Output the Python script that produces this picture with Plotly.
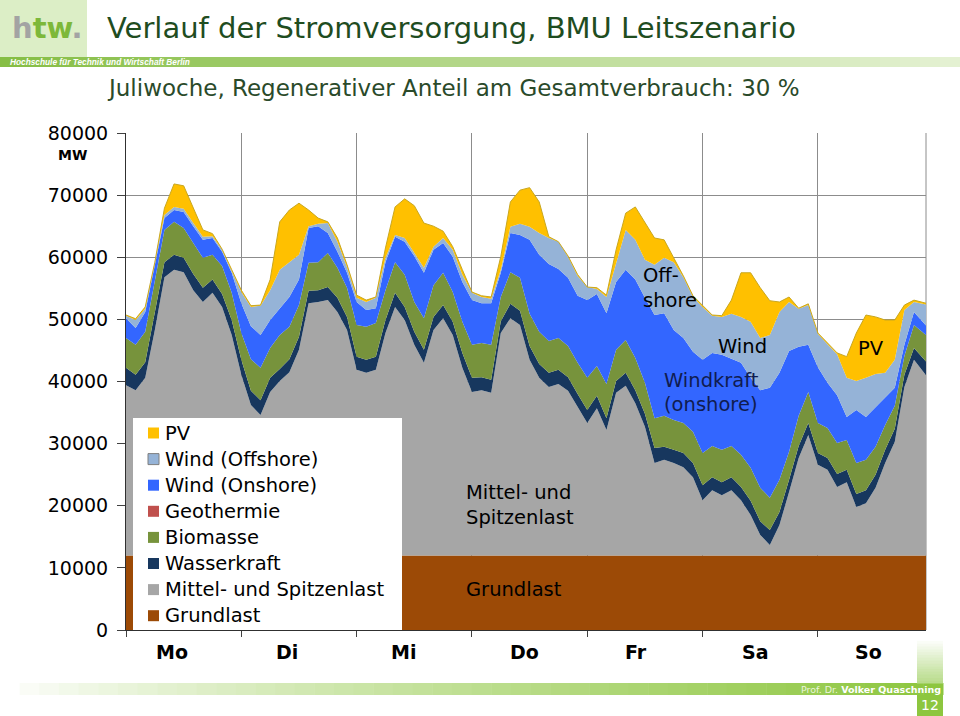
import plotly.graph_objects as go

# ---------------- data (MW) ----------------
# sample hours of the week (Mo 0:00 ... So ~22:30)
hours = list(range(0, 165, 2)) + [166.5]

grundlast_mw = 12000  # constant base load

# stacked upper edges of each band (MW)
mittel_top = [
    39400, 38600, 40600, 48300, 56800, 58000, 57600, 54700, 52800, 54300, 52000, 47500,
    41100, 36200, 34600, 38300, 40100, 41500, 45100, 52600, 52800, 53100, 51200, 48300,
    41900, 41400, 41900, 47800, 52000, 49900, 45900, 43000, 48300, 50200, 47500, 42200,
    38300, 38600, 38200, 47800, 50200, 49100, 43500, 40600, 39100, 39600, 38500, 35900,
    33300, 35700, 32200, 38200, 39300, 36500, 32700, 26900, 27400, 26900, 26200, 24600,
    20900, 22500, 21700, 22500, 20900, 18500, 15300, 13700, 16900, 22200, 27700, 31400,
    26600, 25800, 23000, 23800, 19800, 20400, 22900, 26900, 30300, 39100, 43500, 41000]
wasser_top = [
    42200, 41100, 43100, 51000, 59200, 60400, 59900, 57300, 55100, 56400, 54100, 49900,
    43500, 38500, 37000, 40600, 42000, 43600, 47200, 54600, 54700, 55200, 53500, 50400,
    44000, 43500, 44000, 49900, 54300, 52000, 48000, 45100, 50400, 52300, 49600, 44600,
    40600, 40700, 40300, 49700, 52500, 51400, 45700, 42800, 41400, 41900, 40700, 38000,
    35400, 37700, 34100, 40100, 41400, 38600, 34800, 29300, 29500, 29000, 28500, 26900,
    23300, 24600, 23800, 24600, 23000, 20800, 17500, 16100, 19000, 24200, 29600, 33300,
    28500, 27700, 25100, 25800, 21900, 22500, 25000, 29000, 32400, 41100, 45400, 43200]
biomasse_top = [
    47000, 45900, 48000, 56000, 64400, 65700, 64700, 62300, 59900, 60400, 58600, 54300,
    47800, 43600, 42200, 45400, 47500, 48800, 52300, 59100, 59200, 60700, 58300, 55100,
    49100, 48800, 49400, 54700, 59200, 57200, 52800, 50200, 55500, 57500, 54400, 49600,
    45900, 46200, 45900, 53600, 57600, 56700, 50900, 48000, 46500, 47000, 45700, 43000,
    40600, 42500, 39600, 45100, 46700, 43800, 39800, 34100, 34500, 33800, 33300, 31900,
    28500, 29600, 29000, 29600, 28200, 26100, 22900, 21300, 24200, 28700, 34500, 38300,
    33300, 32500, 30100, 30600, 26900, 27400, 29500, 33000, 36100, 44100, 49100, 47500]
onshore_top = [
    50200, 48600, 51200, 58800, 66300, 67600, 67300, 65000, 62800, 63100, 60900, 57500,
    52600, 48900, 47500, 49900, 51800, 53600, 56400, 64700, 65000, 63900, 60900, 57500,
    52800, 51500, 51800, 59200, 63300, 62500, 60200, 57500, 61200, 62300, 60100, 56000,
    53100, 52600, 52600, 57500, 63900, 63600, 62800, 60400, 58900, 58100, 56700, 53800,
    53100, 54100, 51000, 56000, 58000, 56400, 53500, 50700, 51000, 48300, 47000, 44800,
    43500, 44600, 44300, 43600, 43000, 40600, 38600, 39000, 41400, 44900, 45600, 45900,
    42300, 39800, 37800, 34300, 35400, 34300, 35900, 37500, 39000, 45900, 51200, 49000]
offshore_top = [
    50600, 49900, 51700, 59100, 66800, 68100, 67800, 65500, 63300, 63400, 61200, 57800,
    54400, 52000, 52200, 54700, 58000, 59200, 60400, 65000, 65400, 65500, 62500, 58400,
    53500, 52800, 53500, 59900, 63600, 63100, 60700, 58300, 61700, 63100, 61200, 57200,
    54300, 53600, 53300, 58000, 64900, 65400, 64900, 63900, 63100, 62500, 60100, 57000,
    55200, 54900, 53600, 59100, 64400, 62800, 59600, 58800, 59900, 59200, 56800, 53600,
    52000, 50600, 50400, 50900, 50400, 49600, 47000, 47500, 51200, 52800, 51700, 52300,
    47700, 46000, 44400, 40600, 40100, 40600, 41200, 41400, 43500, 51500, 52800, 52400]
pv_top = [
    50700, 50100, 52000, 59200, 67900, 71800, 71500, 67900, 64400, 63800, 61300, 58000,
    54700, 52200, 52300, 56400, 65700, 67600, 68700, 67600, 66300, 65700, 63100, 58800,
    53900, 53100, 53600, 61500, 68100, 69400, 68300, 65500, 65000, 64200, 61700, 58000,
    54400, 53800, 53600, 60100, 68900, 70800, 71200, 68900, 63300, 62500, 60200, 57200,
    55200, 55100, 53900, 61200, 67100, 68100, 65700, 63100, 62800, 59900, 57000, 53800,
    52200, 50700, 50600, 53100, 57500, 57500, 55100, 53000, 52800, 53600, 51800, 52500,
    47800, 46200, 44600, 44000, 47800, 50700, 50400, 49900, 49900, 52300, 53100, 52600]

days = ["Mo", "Di", "Mi", "Do", "Fr", "Sa", "So"]
y_ticks = [0, 10000, 20000, 30000, 40000, 50000, 60000, 70000, 80000]

legend_names = ["PV", "Wind (Offshore)", "Wind (Onshore)", "Geothermie",
                "Biomasse", "Wasserkraft", "Mittel- und Spitzenlast", "Grundlast"]

# ---------------- styles ----------------
C_GRUND = "#9C4A06"
C_MITTEL = "#A6A6A6"
C_WASSER = "#17375E"
C_BIO = "#77933C"
C_GEO = "#C0504D"
C_ON = "#3366FF"
C_OFF = "#95B3D7"
C_PV = "#FFC000"
legend_colors = [C_PV, C_OFF, C_ON, C_GEO, C_BIO, C_WASSER, C_MITTEL, C_GRUND]
FONT = "DejaVu Sans"

W, H = 960, 716
L, R, T, B = 126, 926, 133, 630


def px(x):
    return (x - L) / (R - L)


def py(y):
    return (B - y) / (B - T)


fig = go.Figure()

layers = [
    ("Grundlast", [grundlast_mw] * len(hours), C_GRUND, "tozeroy"),
    ("Mittel- und Spitzenlast", mittel_top, C_MITTEL, "tonexty"),
    ("Wasserkraft", wasser_top, C_WASSER, "tonexty"),
    ("Biomasse", biomasse_top, C_BIO, "tonexty"),
    ("Wind (Onshore)", onshore_top, C_ON, "tonexty"),
    ("Wind (Offshore)", offshore_top, C_OFF, "tonexty"),
]
for name, ys, col, fill in layers:
    fig.add_trace(go.Scatter(x=hours, y=ys, name=name, mode="lines",
                             line=dict(width=0, color=col), fill=fill,
                             fillcolor=col, showlegend=False))
fig.add_trace(go.Scatter(x=hours, y=pv_top, name="PV", mode="lines",
                         line=dict(width=1, color="#C9A71E"), fill="tonexty",
                         fillcolor=C_PV, showlegend=False))

shapes = []
annotations = []

# right border of plot area
shapes.append(dict(type="line", xref="paper", yref="paper", x0=1, x1=1, y0=0, y1=1,
                   line=dict(color="#8C8C8C", width=1), layer="below"))

# ---- legend (manual) ----
shapes.append(dict(type="rect", xref="paper", yref="paper", x0=px(133), x1=px(402),
                   y0=py(630), y1=py(418), fillcolor="white", line=dict(width=0),
                   layer="above"))
for i, (nm, col) in enumerate(zip(legend_names, legend_colors)):
    cy = 433 + i * 26.1
    shapes.append(dict(type="rect", xref="paper", yref="paper",
                       x0=px(148), x1=px(159), y0=py(cy + 5.5), y1=py(cy - 5.5),
                       fillcolor=col,
                       line=dict(width=1 if col == C_OFF else 0, color="#7F7F7F"),
                       layer="above"))
    annotations.append(dict(xref="paper", yref="paper", x=px(163), y=py(cy),
                            text=nm, showarrow=False, xanchor="left", yanchor="middle",
                            font=dict(family=FONT, size=19.5, color="black")))

# ---- labels inside the chart ----
inner = [
    ("Mittel- und", 464, 492, "black"), ("Spitzenlast", 464, 517, "black"),
    ("Grundlast", 464, 589, "black"),
    ("Off-", 641, 275, "black"), ("shore", 641, 300, "black"),
    ("Wind", 716, 346, "black"),
    ("Windkraft", 662, 380, "#101C50"), ("(onshore)", 662, 404, "#101C50"),
    ("PV", 856, 348, "black"),
]
for txt, x, y, col in inner:
    annotations.append(dict(xref="paper", yref="paper", x=px(x), y=py(y), text=txt,
                            showarrow=False, xanchor="left", yanchor="middle",
                            font=dict(family=FONT, size=19.5, color=col)))

# ---- day labels ----
day_px = [172, 287, 403, 524, 636, 755, 868]
for d, x in zip(days, day_px):
    annotations.append(dict(xref="paper", yref="paper", x=px(x), y=py(652),
                            text="<b>%s</b>" % d, showarrow=False, xanchor="center",
                            yanchor="middle", font=dict(family=FONT, size=19, color="black")))

# MW unit
annotations.append(dict(xref="paper", yref="paper", x=px(72), y=py(155), text="<b>MW</b>",
                        showarrow=False, xanchor="center", yanchor="middle",
                        font=dict(family=FONT, size=14, color="black")))

# ---- header ----
shapes.append(dict(type="rect", xref="paper", yref="paper", x0=px(0), x1=px(87),
                   y0=py(57), y1=py(0), fillcolor="#DCEEC6", line=dict(width=0)))


def lerp(c1, c2, t):
    a = [int(c1[i:i + 2], 16) for i in (1, 3, 5)]
    b = [int(c2[i:i + 2], 16) for i in (1, 3, 5)]
    return "rgb(%d,%d,%d)" % tuple(round(a[k] + (b[k] - a[k]) * t) for k in range(3))


N = 48
for k in range(N):
    x0 = 0 + k * 960 / N
    x1 = x0 + 960 / N + 0.5
    shapes.append(dict(type="rect", xref="paper", yref="paper", x0=px(x0), x1=px(x1),
                       y0=py(67), y1=py(57), fillcolor=lerp("#86BE45", "#E4F1D2", k / (N - 1)),
                       line=dict(width=0)))
    bx0 = k * 943 / N
    bx1 = bx0 + 943 / N + 0.5
    shapes.append(dict(type="rect", xref="paper", yref="paper", x0=px(bx0), x1=px(bx1),
                       y0=py(695), y1=py(683), fillcolor=lerp("#FFFFFF", "#8DC63F", (k / (N - 1)) ** 0.8),
                       line=dict(width=0)))
NV = 16
for k in range(NV):
    y0 = 638 + k * 45 / NV
    shapes.append(dict(type="rect", xref="paper", yref="paper", x0=px(917), x1=px(943),
                       y0=py(y0 + 45 / NV + 0.5), y1=py(y0),
                       fillcolor=lerp("#FFFFFF", "#B9DC8C", k / (NV - 1)), line=dict(width=0)))
shapes.append(dict(type="rect", xref="paper", yref="paper", x0=px(917), x1=px(943),
                   y0=py(716), y1=py(695), fillcolor="#8DC63F", line=dict(width=0)))

annotations += [
    dict(xref="paper", yref="paper", x=px(10), y=py(28),
         text='<b><span style="color:#A3A3A3">h</span><span style="color:#7DB83A">tw</span>'
              '<span style="color:#A3A3A3">.</span></b>',
         showarrow=False, xanchor="left", yanchor="middle",
         font=dict(family=FONT, size=29)),
    dict(xref="paper", yref="paper", x=px(8), y=py(62),
         text="<b><i>Hochschule für Technik und Wirtschaft Berlin</i></b>",
         showarrow=False, xanchor="left", yanchor="middle",
         font=dict(family="Liberation Sans", size=8.3, color="white")),
    dict(xref="paper", yref="paper", x=px(105), y=py(28),
         text="Verlauf der Stromversorgung, BMU Leitszenario",
         showarrow=False, xanchor="left", yanchor="middle",
         font=dict(family=FONT, size=29, color="#1F4D1F")),
    dict(xref="paper", yref="paper", x=px(105), y=py(88),
         text="Juliwoche, Regenerativer Anteil am Gesamtverbrauch: 30 %",
         showarrow=False, xanchor="left", yanchor="middle",
         font=dict(family=FONT, size=23, color="#2A4A2A")),
    dict(xref="paper", yref="paper", x=px(943), y=py(689),
         text='<span style="color:#EAF5DC">Prof. Dr.</span> <b>Volker Quaschning</b>',
         showarrow=False, xanchor="right", yanchor="middle",
         font=dict(family=FONT, size=9.5, color="white")),
    dict(xref="paper", yref="paper", x=px(930), y=py(705), text="12",
         showarrow=False, xanchor="center", yanchor="middle",
         font=dict(family=FONT, size=14, color="white")),
]

fig.update_layout(
    width=W, height=H, autosize=False,
    margin=dict(l=L, r=W - R, t=T, b=H - B, pad=0),
    paper_bgcolor="white", plot_bgcolor="white",
    showlegend=False, shapes=shapes, annotations=annotations,
    xaxis=dict(range=[0, 166.5], tickvals=[0, 24, 48, 72, 96, 120, 144],
               showticklabels=False, ticks="outside", ticklen=6, tickcolor="#404040",
               showgrid=True, gridcolor="#8C8C8C", gridwidth=1, zeroline=False,
               showline=True, linecolor="#303030", linewidth=1, fixedrange=True),
    yaxis=dict(range=[0, 80000], tickvals=y_ticks, tickformat="d",
               ticks="outside", ticklen=8, tickcolor="#404040", ticklabelstandoff=5,
               tickfont=dict(family=FONT, size=19, color="black"),
               showgrid=True, gridcolor="#8C8C8C", gridwidth=1, zeroline=False,
               showline=True, linecolor="#303030", linewidth=1, fixedrange=True),
    font=dict(family=FONT),
)

fig.write_html("out.html",
               config={"displayModeBar": False},
               post_script="document.body.style.margin='0px';"
                           "document.body.style.padding='0px';"
                           "document.body.style.overflow='hidden';")
